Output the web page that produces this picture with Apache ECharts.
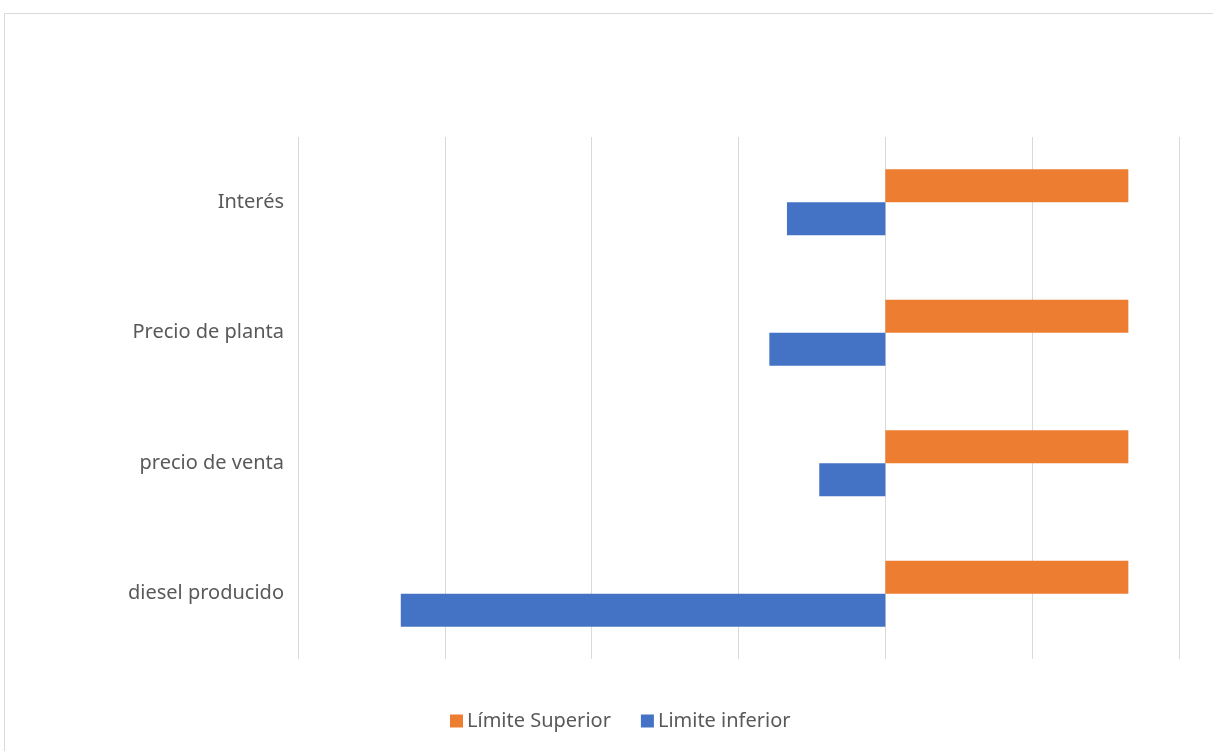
<!DOCTYPE html>
<html>
<head>
<meta charset="utf-8">
<script src="https://cdn.jsdelivr.net/npm/echarts@6/dist/echarts.min.js"></script>
<style>
html,body{margin:0;padding:0;background:#fff;}
#c{width:1213px;height:751px;}
</style>
</head>
<body>
<div id="c"></div>
<script>
const categories = ['diesel producido', 'precio de venta', 'Precio de planta', 'Interés'];
const limiteSuperior = [1.655, 1.655, 1.655, 1.655];
const limiteInferior = [-3.30, -0.45, -0.79, -0.67];
const seriesNames = ['Límite Superior', 'Limite inferior'];

const chart = echarts.init(document.getElementById('c'));
const font = 'Noto Sans';
chart.setOption({
  animation: false,
  graphic: [{
    type: 'rect',
    shape: {x: 4.5, y: 13.5, width: 1300, height: 800},
    style: {fill: 'none', stroke: '#d9d9d9', lineWidth: 1},
    silent: true
  }],
  grid: {left: 298, right: 34, top: 137, bottom: 92, containLabel: false},
  legend: {
    data: seriesNames,
    top: 711,
    left: 450,
    padding: 0,
    itemWidth: 13,
    itemHeight: 13,
    itemGap: 30,
    icon: 'rect',
    textStyle: {fontFamily: font, fontSize: 20, color: '#595959', padding: [0, 0, 0, -1]}
  },
  xAxis: {
    type: 'value',
    min: -4,
    max: 2,
    interval: 1,
    axisLabel: {show: false},
    axisLine: {show: false},
    axisTick: {show: false},
    splitLine: {show: true, lineStyle: {color: '#d9d9d9', width: 1}}
  },
  yAxis: {
    type: 'category',
    data: categories,
    axisLine: {show: false},
    axisTick: {show: false},
    axisLabel: {
      margin: 14,
      fontFamily: font,
      fontSize: 20,
      color: '#595959'
    }
  },
  series: [
    {
      name: seriesNames[0],
      type: 'bar',
      data: limiteSuperior,
      barWidth: 33,
      barGap: '0%',
      itemStyle: {color: '#ed7d31'}
    },
    {
      name: seriesNames[1],
      type: 'bar',
      data: limiteInferior,
      barWidth: 33,
      barGap: '0%',
      itemStyle: {color: '#4472c4'}
    }
  ]
});
</script>
</body>
</html>
